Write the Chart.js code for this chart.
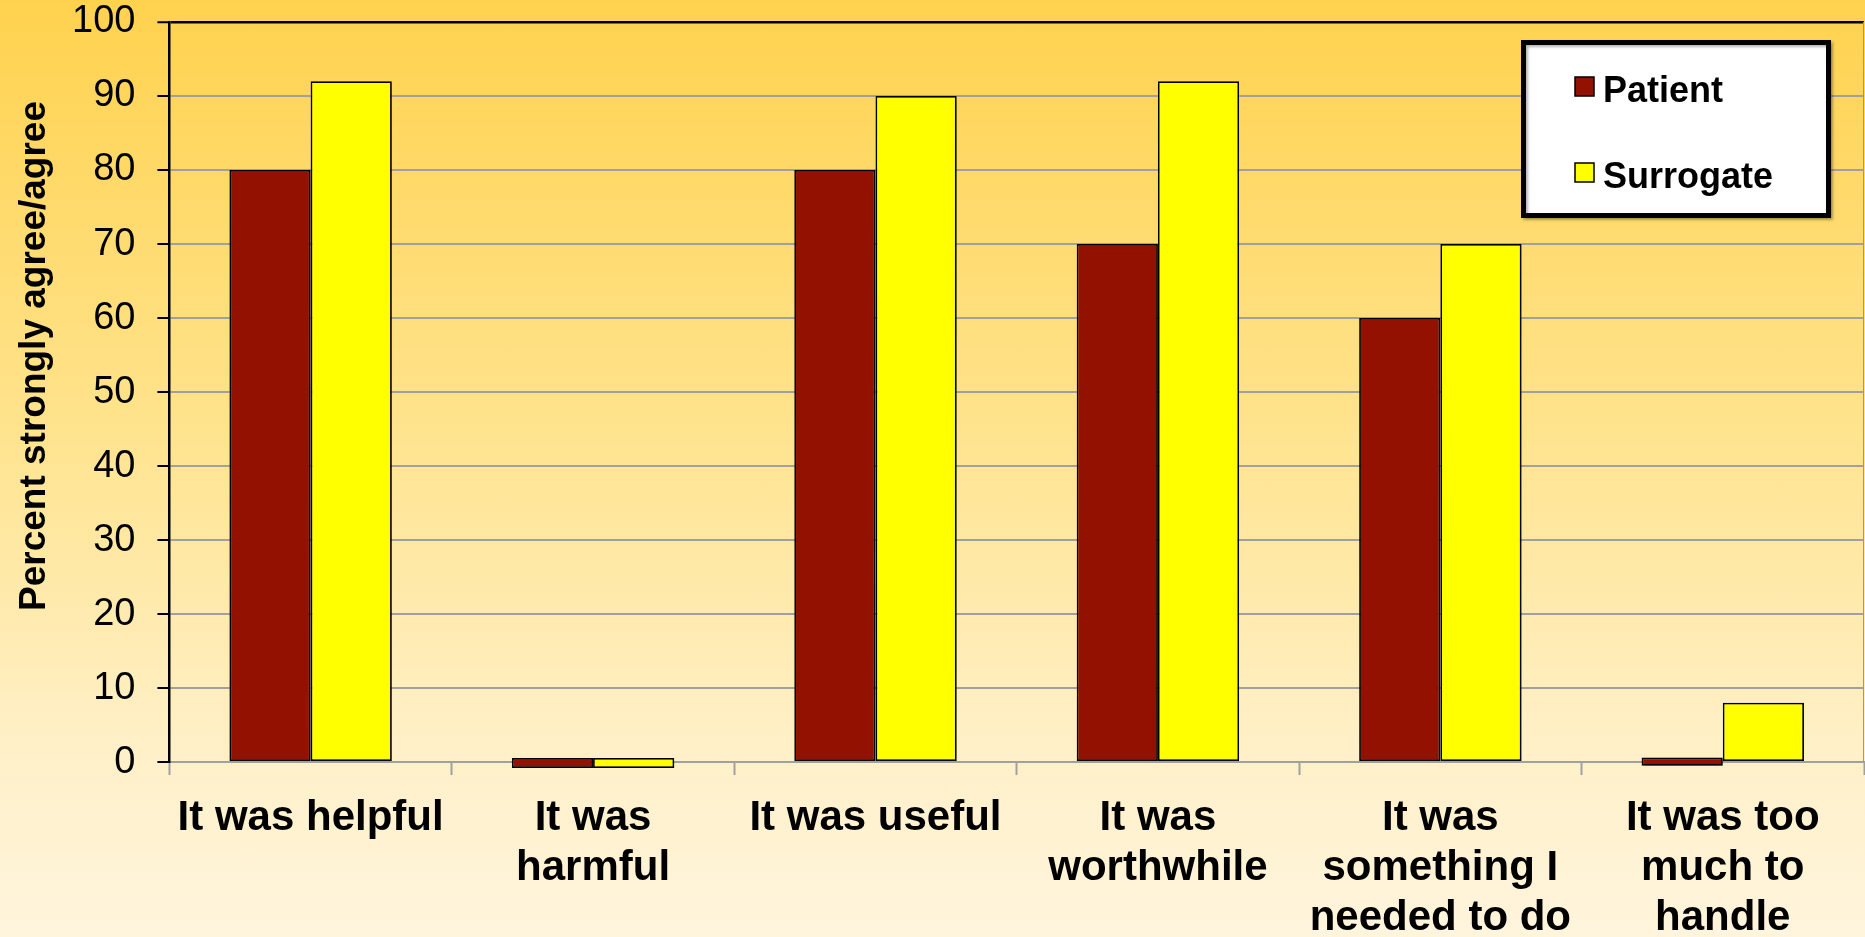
<!DOCTYPE html>
<html><head><meta charset="utf-8">
<script src="https://cdn.jsdelivr.net/npm/chart.js@4.4.1/dist/chart.umd.min.js"></script>
<style>
html,body{margin:0;padding:0;overflow:hidden;}
body{width:1865px;height:937px;background:linear-gradient(180deg,#FFD24E 0%,#FFE38C 45%,#FFF0C8 80%,#FFF5DD 100%);}
#wrap{position:relative;width:1865px;height:961px;}
</style></head><body>
<div id="wrap"><canvas id="c"></canvas></div>
<script>
const categories = ['It was helpful', ['It was','harmful'], 'It was useful', ['It was','worthwhile'], ['It was','something I','needed to do'], ['It was too','much to','handle']];
const seriesNames = ['Patient', 'Surrogate'];
const patientValues = [80, [-0.8, 0.55], 80, 70, 60, [-0.5, 0.6]];
const surrogateValues = [92, [-0.8, 0.55], 90, 92, 70, 8];
const yTickValues = [0, 10, 20, 30, 40, 50, 60, 70, 80, 90, 100];
const yTitle = 'Percent strongly agree/agree';

const FONT = "'Liberation Sans', Arial, sans-serif";
const colors = ['#921100', '#FFFF00'];

const barShadow = {
  id: 'barShadow',
  beforeDatasetsDraw(chart) {
    const ctx = chart.ctx; ctx.save();
    ctx.shadowColor = 'rgba(0,0,0,0.35)'; ctx.shadowOffsetX = 2; ctx.shadowOffsetY = 2; ctx.shadowBlur = 3;
  },
  afterDatasetsDraw(chart) { chart.ctx.restore(); }
};

const extras = {
  id: 'extras',
  afterDraw(chart) {
    const ctx = chart.ctx, a = chart.chartArea;
    ctx.save();
    ctx.strokeStyle = '#A89870'; ctx.lineWidth = 1;
    ctx.beginPath(); ctx.moveTo(a.right - 0.5, a.top); ctx.lineTo(a.right - 0.5, a.bottom); ctx.stroke();
    ctx.fillStyle = '#000';
    ctx.font = 'bold 37px ' + FONT;
    ctx.textAlign = 'center'; ctx.textBaseline = 'alphabetic';
    ctx.translate(45, a.top + 334);
    ctx.rotate(-Math.PI / 2);
    ctx.fillText(yTitle, 0, 0);
    ctx.restore();

    ctx.save();
    const bx = a.right - 340.5, by = a.top + 20.5, bw = 305, bh = 173;
    ctx.shadowColor = 'rgba(0,0,0,0.3)'; ctx.shadowOffsetX = 2; ctx.shadowOffsetY = 2; ctx.shadowBlur = 3;
    ctx.fillStyle = '#fff'; ctx.fillRect(bx, by, bw, bh);
    ctx.strokeStyle = '#000'; ctx.lineWidth = 5; ctx.strokeRect(bx, by, bw, bh);
    ctx.shadowColor = 'transparent';
    ctx.font = 'bold 36px ' + FONT;
    ctx.textAlign = 'left'; ctx.textBaseline = 'alphabetic';
    chart.data.datasets.forEach((ds, i) => {
      const sy = by + 34.5 + i * 86;
      ctx.fillStyle = ds.backgroundColor;
      ctx.fillRect(bx + 51.5, sy, 19, 19);
      ctx.strokeStyle = '#000'; ctx.lineWidth = 1.5;
      ctx.strokeRect(bx + 51.5, sy, 19, 19);
      ctx.fillStyle = '#000';
      ctx.fillText(ds.label, bx + 79.5, sy + 24.5);
    });
    ctx.restore();
  }
};

new Chart(document.getElementById('c'), {
  type: 'bar',
  data: {
    labels: categories,
    datasets: [
      { label: seriesNames[0], data: patientValues, backgroundColor: colors[0], borderColor: '#000', borderWidth: 1.75, borderSkipped: false, clip: false },
      { label: seriesNames[1], data: surrogateValues, backgroundColor: colors[1], borderColor: '#000', borderWidth: 1.75, borderSkipped: false, clip: false }
    ]
  },
  options: {
    responsive: true,
    maintainAspectRatio: false,
    animation: false,
    layout: { padding: { left: 50, right: 1, top: 0, bottom: 0 } },
    datasets: { bar: { categoryPercentage: 0.575, barPercentage: 1.0 } },
    plugins: { legend: { display: false }, tooltip: { enabled: false } },
    scales: {
      x: {
        grid: { display: true, drawOnChartArea: false, drawTicks: true, tickLength: 13, tickColor: '#A0A0A0', tickWidth: 2, offset: true },
        border: { display: true, color: '#A0A0A0', width: 2 },
        ticks: { color: '#000', padding: 18, maxRotation: 0, autoSkip: false, font: { family: FONT, size: 42, weight: 'bold', lineHeight: 1.19 } }
      },
      y: {
        min: 0, max: 100,
        afterBuildTicks(scale) { scale.ticks = yTickValues.map(v => ({ value: v })); },
        afterFit(scale) { scale.paddingTop = 22; scale.paddingBottom = 22; },
        grid: {
          color: (c) => (c.tick && c.tick.value === 100) ? '#000' : '#A0A0A0',
          lineWidth: (c) => (c.tick && c.tick.value === 100) ? 2.5 : 2,
          tickColor: '#000', tickLength: 12, tickWidth: 2
        },
        border: { display: true, color: '#000', width: 2.5 },
        ticks: { color: '#000', padding: 22, font: { family: FONT, size: 38 } }
      }
    }
  },
  plugins: [barShadow, extras]
});
</script>
</body></html>
